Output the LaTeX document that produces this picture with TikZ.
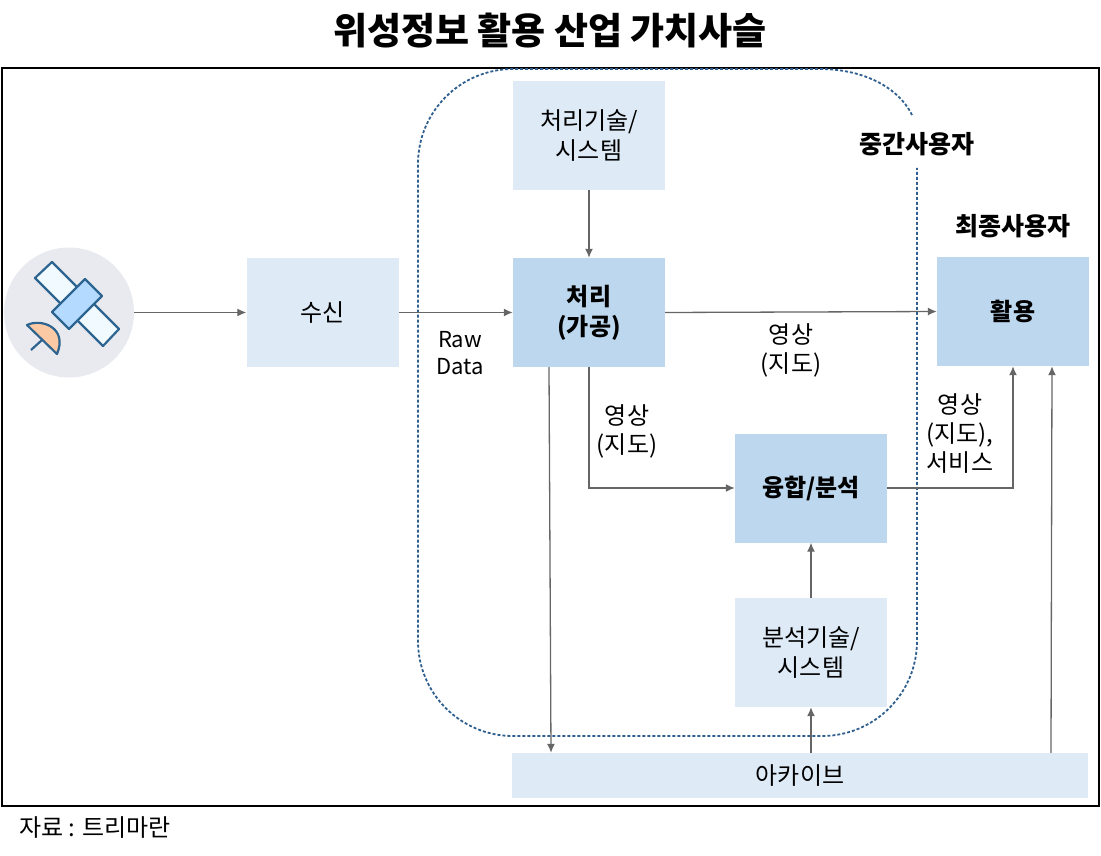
\documentclass[tikz,border=0pt]{standalone}
\usepackage{fontspec}
\setmainfont{Noto Sans CJK KR}
\usetikzlibrary{arrows.meta}
\definecolor{lightbox}{HTML}{DEEAF6}
\definecolor{darkbox}{HTML}{BDD7EE}
\definecolor{arrowgray}{HTML}{666666}
\definecolor{dashblue}{HTML}{2F5F8F}
\definecolor{satline}{HTML}{2E6590}
\definecolor{satbg}{HTML}{E9EAF0}
\definecolor{panelfill}{HTML}{F0FAFF}
\definecolor{bodyfill}{HTML}{B4DAFF}
\definecolor{dishfill}{HTML}{FCC9A5}
\tikzset{
  lightnode/.style={fill=lightbox, inner sep=0pt, minimum width=152pt, minimum height=109pt, align=center, font=\fontsize{24}{30}\selectfont},
  darknode/.style={lightnode, fill=darkbox, font=\fontsize{24}{30}\selectfont\bfseries},
  flow/.style={arrowgray, line width=1.3pt, -{Latex[length=9pt,width=8pt]}},
  lab/.style={inner sep=0pt, align=center, font=\fontsize{24}{29}\selectfont},
  boldlab/.style={inner sep=0pt, align=center, font=\fontsize{25}{29}\selectfont\bfseries},
  satpart/.style={draw=satline, line width=2.2pt, line join=round}
}
\begin{document}
\begin{tikzpicture}[x=1pt,y=-1pt]
\useasboundingbox (0,0) rectangle (1101,856);

\node[inner sep=0pt, font=\fontsize{37}{40}\selectfont\bfseries](title) at (550,31){위성정보 활용 산업 가치사슬};
\node[anchor=west, lab](source) at (19,828){자료 : 트리마란};

\draw[black, line width=1.6pt] (2,68) rectangle (1099,806);

% intermediate user boundary
\draw[dashblue, line width=1.8pt, densely dashed] (912,115) .. controls (897,85) and (860,69) .. (820,69) -- (513,69)
  arc[start angle=-90, end angle=-180, radius=95] -- (418,641)
  arc[start angle=180, end angle=90, radius=95] -- (822,736)
  arc[start angle=90, end angle=0, radius=95] -- (917,168);

% satellite
\node[circle, fill=satbg, inner sep=0pt, minimum size=130pt](sat) at (69,312.5){};
\filldraw[satpart, fill=panelfill] (52,262) -- (35,278) -- (103,346) -- (119,329) -- cycle;
\filldraw[satpart, fill=bodyfill] (85,279) -- (102,296) -- (69,329) -- (52,312) -- cycle;
\draw[satpart] (42,340) -- (31,350);
\filldraw[satpart, fill=dishfill] (27,325) .. controls (42,318) and (68,328) .. (57,354) -- cycle;

% boxes
\node[lightnode](tech1) at (589,135.5){처리기술/\\시스템};
\node[lightnode](recv) at (322.5,312.5){수신};
\node[darknode](proc) at (589,312.5){처리\\(가공)};
\node[darknode](use) at (1013,311.5){활용};
\node[darknode](fusion) at (811,488){융합/분석};
\node[lightnode](tech2) at (811,652.5){분석기술/\\시스템};
\node[lightnode, minimum width=576pt, minimum height=45pt](arch) at (800,775.5){아카이브};

% labels
\node[boldlab](midlabel) at (917,144.5){중간사용자};
\node[boldlab](endlabel) at (1013,226.5){최종사용자};
\node[lab, font=\fontsize{22}{27}\selectfont](rawlabel) at (460,353){Raw\\Data};
\node[lab](imglabel1) at (791,350){영상\\(지도)};
\node[lab](imglabel2) at (627,431){영상\\(지도)};
\node[lab](imglabel3) at (960,434){영상\\(지도),\\서비스};

% connectors
\draw[flow] (sat.east) -- (recv.west);
\draw[flow] (recv.east) -- (proc.west);
\draw[flow] (tech1.south) -- (proc.north);
\draw[flow] (proc.east) -- (use.west);
\draw[flow] (proc.south) |- (fusion.west);
\draw[flow] ([xshift=-40pt]proc.south) -- ([xshift=-249pt]arch.north);
\draw[flow] (fusion.east) -| (use.south);
\draw[flow] (tech2.north) -- (fusion.south);
\draw[flow] (arch.north -| tech2.south) -- (tech2.south);
\draw[flow] ([xshift=251pt]arch.north) -- ([xshift=39pt]use.south);

\end{tikzpicture}
\end{document}
